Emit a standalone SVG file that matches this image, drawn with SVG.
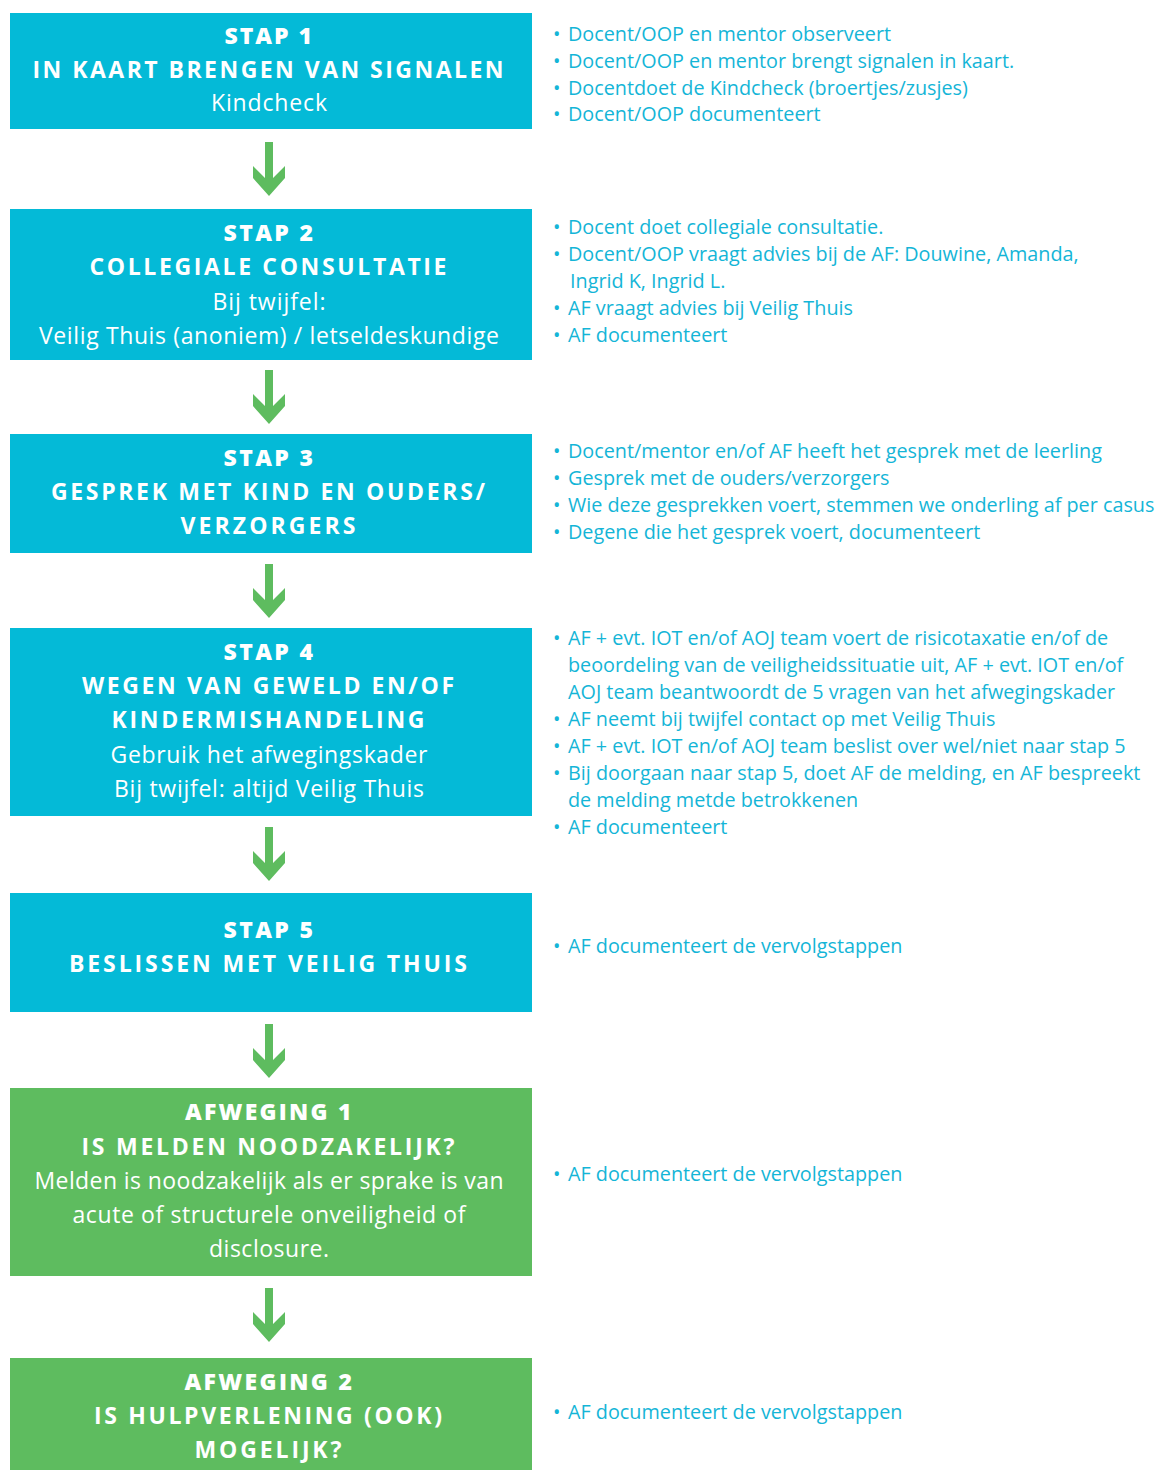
<svg xmlns="http://www.w3.org/2000/svg" width="1160" height="1470" viewBox="0 0 1160 1470">
<defs>
<style>
.bc{fill:#04BAD7}
.bg{fill:#5EBC5F}
.h{font-family:"Open Sans","Liberation Sans",sans-serif;font-weight:800;font-size:23px;fill:#fff;text-anchor:middle;letter-spacing:1.5px}
.t{font-family:"Open Sans","Liberation Sans",sans-serif;font-weight:700;font-size:23px;fill:#fff;text-anchor:middle;letter-spacing:2px}
.s{font-family:"Open Sans","Liberation Sans",sans-serif;font-weight:400;font-size:23px;fill:#fff;text-anchor:middle}
.r{font-family:"Open Sans","Liberation Sans",sans-serif;font-size:19.8px;fill:#14B5D7}
.arr{fill:#5EBC5F}
</style>
<path id="ar" d="M-4,0 H4 V36 L16,24 V36 L0,54 L-16,36 V24 L-4,36 Z"/>
</defs>
<rect width="1160" height="1470" fill="#fff"/>
<g id="connectors" class="arr">
<use href="#ar" x="269" y="142"/>
<use href="#ar" x="269" y="370"/>
<use href="#ar" x="269" y="564"/>
<use href="#ar" x="269" y="827"/>
<use href="#ar" x="269" y="1024"/>
<use href="#ar" x="269" y="1288"/>
</g>
<g id="stap1">
<rect class="bc" x="10" y="13" width="522" height="116"/>
<text class="h" x="269" y="44" textLength="89">STAP 1</text>
<text class="t" x="269" y="78" textLength="473">IN KAART BRENGEN VAN SIGNALEN</text>
<text class="s" x="269" y="111" textLength="116">Kindcheck</text>
</g>
<g id="stap2">
<rect class="bc" x="10" y="209" width="522" height="151"/>
<text class="h" x="269" y="241" textLength="91">STAP 2</text>
<text class="t" x="269" y="275" textLength="359">COLLEGIALE CONSULTATIE</text>
<text class="s" x="269" y="310" textLength="113">Bij twijfel:</text>
<text class="s" x="269" y="344" textLength="460">Veilig Thuis (anoniem) / letseldeskundige</text>
</g>
<g id="stap3">
<rect class="bc" x="10" y="434" width="522" height="119"/>
<text class="h" x="269" y="466" textLength="91">STAP 3</text>
<text class="t" x="269" y="500" textLength="436">GESPREK MET KIND EN OUDERS/</text>
<text class="t" x="269" y="534" textLength="177">VERZORGERS</text>
</g>
<g id="stap4">
<rect class="bc" x="10" y="628" width="522" height="188"/>
<text class="h" x="269" y="660" textLength="91">STAP 4</text>
<text class="t" x="269" y="694" textLength="374">WEGEN VAN GEWELD EN/OF</text>
<text class="t" x="269" y="728" textLength="315">KINDERMISHANDELING</text>
<text class="s" x="269" y="763" textLength="317">Gebruik het afwegingskader</text>
<text class="s" x="269" y="797" textLength="310">Bij twijfel: altijd Veilig Thuis</text>
</g>
<g id="stap5">
<rect class="bc" x="10" y="893" width="522" height="119"/>
<text class="h" x="269" y="938" textLength="91">STAP 5</text>
<text class="t" x="269" y="972" textLength="400">BESLISSEN MET VEILIG THUIS</text>
</g>
<g id="afweging1">
<rect class="bg" x="10" y="1088" width="522" height="188"/>
<text class="h" x="269" y="1120" textLength="168">AFWEGING 1</text>
<text class="t" x="269" y="1155" textLength="375">IS MELDEN NOODZAKELIJK?</text>
<text class="s" x="269" y="1189" textLength="469">Melden is noodzakelijk als er sprake is van</text>
<text class="s" x="269" y="1223" textLength="393">acute of structurele onveiligheid of</text>
<text class="s" x="269" y="1257" textLength="120">disclosure.</text>
</g>
<g id="afweging2">
<rect class="bg" x="10" y="1358" width="522" height="112"/>
<text class="h" x="269" y="1390" textLength="169">AFWEGING 2</text>
<text class="t" x="269" y="1424" textLength="350">IS HULPVERLENING (OOK)</text>
<text class="t" x="269" y="1458" textLength="149">MOGELIJK?</text>
</g>
<g id="notes1" class="r">
<text x="553" y="41">•</text><text x="568" y="41">Docent/OOP en mentor observeert</text>
<text x="553" y="68">•</text><text x="568" y="68">Docent/OOP en mentor brengt signalen in kaart.</text>
<text x="553" y="95">•</text><text x="568" y="95">Docentdoet de Kindcheck (broertjes/zusjes)</text>
<text x="553" y="121">•</text><text x="568" y="121">Docent/OOP documenteert</text>
</g>
<g id="notes2" class="r">
<text x="553" y="234">•</text><text x="568" y="234">Docent doet collegiale consultatie.</text>
<text x="553" y="261">•</text><text x="568" y="261">Docent/OOP vraagt advies bij de AF: Douwine, Amanda,</text>
<text x="570" y="288">Ingrid K, Ingrid L.</text>
<text x="553" y="315">•</text><text x="568" y="315">AF vraagt advies bij Veilig Thuis</text>
<text x="553" y="342">•</text><text x="568" y="342">AF documenteert</text>
</g>
<g id="notes3" class="r">
<text x="553" y="458">•</text><text x="568" y="458">Docent/mentor en/of AF heeft het gesprek met de leerling</text>
<text x="553" y="485">•</text><text x="568" y="485">Gesprek met de ouders/verzorgers</text>
<text x="553" y="512">•</text><text x="568" y="512">Wie deze gesprekken voert, stemmen we onderling af per casus</text>
<text x="553" y="539">•</text><text x="568" y="539">Degene die het gesprek voert, documenteert</text>
</g>
<g id="notes4" class="r">
<text x="553" y="645">•</text><text x="568" y="645">AF + evt. IOT en/of AOJ team voert de risicotaxatie en/of de</text>
<text x="568" y="672">beoordeling van de veiligheidssituatie uit, AF + evt. IOT en/of</text>
<text x="568" y="699">AOJ team beantwoordt de 5 vragen van het afwegingskader</text>
<text x="553" y="726">•</text><text x="568" y="726">AF neemt bij twijfel contact op met Veilig Thuis</text>
<text x="553" y="753">•</text><text x="568" y="753">AF + evt. IOT en/of AOJ team beslist over wel/niet naar stap 5</text>
<text x="553" y="780">•</text><text x="568" y="780">Bij doorgaan naar stap 5, doet AF de melding, en AF bespreekt</text>
<text x="568" y="807">de melding metde betrokkenen</text>
<text x="553" y="834">•</text><text x="568" y="834">AF documenteert</text>
</g>
<g id="notes5" class="r">
<text x="553" y="953">•</text><text x="568" y="953">AF documenteert de vervolgstappen</text>
</g>
<g id="notes6" class="r">
<text x="553" y="1181">•</text><text x="568" y="1181">AF documenteert de vervolgstappen</text>
</g>
<g id="notes7" class="r">
<text x="553" y="1419">•</text><text x="568" y="1419">AF documenteert de vervolgstappen</text>
</g>
</svg>
